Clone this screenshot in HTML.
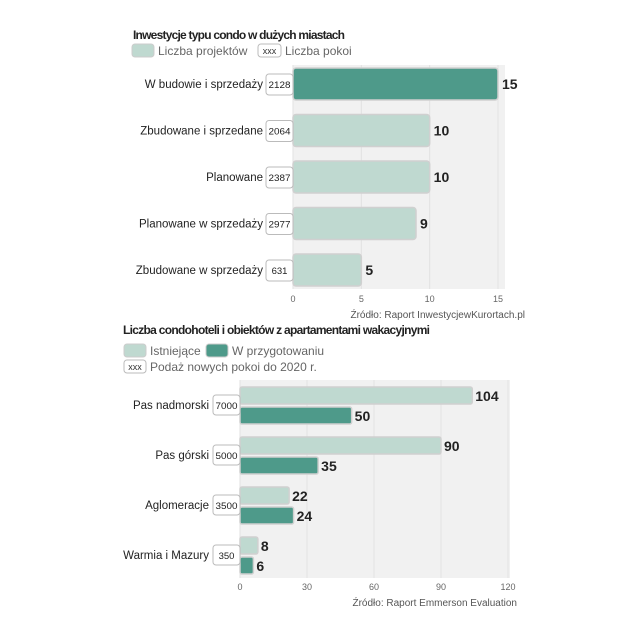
<!DOCTYPE html>
<html><head><meta charset="utf-8"><style>
html,body{margin:0;padding:0;background:#fff;}
svg{display:block;font-family:"Liberation Sans",sans-serif;}
</style></head><body>
<svg id="s" width="640" height="640" viewBox="0 0 640 640">
<text x="133" y="39" font-size="12" font-weight="bold" fill="#222" textLength="212">Inwestycje typu condo w dużych miastach</text>
<g>
<rect x="132" y="44" width="22" height="13" rx="3" fill="#bfd9d0" stroke="#ccc"/>
<text x="158" y="55" font-size="12" fill="#666">Liczba projektów</text>
<rect x="258" y="44" width="23" height="13" rx="3" fill="#fff" stroke="#bbb"/>
<text x="269.5" y="54" font-size="9" fill="#333" text-anchor="middle">xxx</text>
<text x="285" y="55" font-size="12" fill="#666">Liczba pokoi</text>
</g>
<rect x="293" y="65" width="212" height="224" fill="#f1f1f1"/>
<g id="c1"></g>
<text x="525" y="318" font-size="10" fill="#555" text-anchor="end">Źródło:  Raport InwestycjewKurortach.pl</text>

<text x="123" y="334" font-size="12" font-weight="bold" fill="#222" textLength="307">Liczba condohoteli i obiektów z apartamentami wakacyjnymi</text>
<g>
<rect x="124" y="344" width="22" height="13" rx="3" fill="#bfd9d0" stroke="#ccc"/>
<text x="150" y="355" font-size="12" fill="#666">Istniejące</text>
<rect x="206" y="344" width="22" height="13" rx="3" fill="#4e9a8a" stroke="#ccc"/>
<text x="232" y="355" font-size="12" fill="#666">W przygotowaniu</text>
<rect x="124" y="360" width="22" height="13" rx="3" fill="#fff" stroke="#bbb"/>
<text x="135" y="370" font-size="9" fill="#333" text-anchor="middle">xxx</text>
<text x="150" y="371" font-size="12" fill="#666">Podaż nowych pokoi do 2020 r.</text>
</g>
<rect x="240" y="380" width="270" height="198" fill="#f1f1f1"/>
<g id="c2"></g>
<text x="517" y="606" font-size="10" fill="#555" text-anchor="end">Źródło: Raport Emmerson Evaluation</text>
</svg>
<script>
const c1Categories=["W budowie i sprzedaży","Zbudowane i sprzedane","Planowane","Planowane w sprzedaży","Zbudowane  w sprzedaży"];
const c1Projects=[15,10,10,9,5];
const c1Rooms=["2128","2064","2387","2977","631"];
const c1Ticks=[0,5,10,15];
const c2Categories=["Pas nadmorski","Pas górski","Aglomeracje","Warmia i Mazury"];
const c2Existing=[104,90,22,8];
const c2Preparing=[50,35,24,6];
const c2Supply=["7000","5000","3500","350"];
const c2Ticks=[0,30,60,90,120];

const NS="http://www.w3.org/2000/svg";
function mk(p,tag,a,txt){const e=document.createElementNS(NS,tag);for(const k in a)e.setAttribute(k,a[k]);if(txt!==undefined)e.textContent=txt;p.appendChild(e);return e;}

const g1=document.getElementById('c1');
const x1=v=>293+v*(205/15);
const y1=i=>84+i*46.5;
c1Ticks.forEach(t=>{
 const l=mk(g1,'line',{x1:x1(t),x2:x1(t),y1:65,y2:289,stroke:'#e2e2e2'});
 
 
 const tx=mk(g1,'text',{x:x1(t),y:302,'font-size':9,fill:'#666','text-anchor':'middle'},t);
 
 
});
c1Categories.forEach((c,i)=>{
 const yc=y1(i);
 const b=mk(g1,'rect',{x:x1(0),y:yc-16,width:x1(c1Projects[i])-x1(0),height:32,rx:3,fill:i===0?'#4e9a8a':'#bfd9d0',stroke:'#d0d0d0','stroke-width':1.5});
 
 
 const v=mk(g1,'text',{x:x1(c1Projects[i])+4,y:yc+5,'font-size':14,'font-weight':'bold',fill:'#222'},c1Projects[i]);
 
 
 const bx=mk(g1,'rect',{x:266,y:yc-10,width:27,height:21,rx:3,fill:'#fff',stroke:'#bbb'});
 
 
 const attrs={x:279.5,y:yc+4,'font-size':9.5,fill:'#222','text-anchor':'middle'};
 if(c1Rooms[i].length>3){attrs.textLength=22;attrs.lengthAdjust='spacingAndGlyphs';}
 const bt=mk(g1,'text',attrs,c1Rooms[i]);
 
 
 const ct=mk(g1,'text',{x:263,y:yc+4,'font-size':11.5,fill:'#222','text-anchor':'end'},c);
 
 
});

const g2=document.getElementById('c2');
const x2=v=>240+v*(268/120);
const y2=i=>405+i*50;
c2Ticks.forEach(t=>{
 const l=mk(g2,'line',{x1:x2(t),x2:x2(t),y1:380,y2:578,stroke:'#e2e2e2'});
 
 
 const tx=mk(g2,'text',{x:x2(t),y:590,'font-size':9,fill:'#666','text-anchor':'middle'},t);
 
 
});
c2Categories.forEach((c,i)=>{
 const yc=y2(i);
 const b1=mk(g2,'rect',{x:x2(0),y:yc-18,width:x2(c2Existing[i])-x2(0),height:17,rx:2,fill:'#bfd9d0',stroke:'#d0d0d0','stroke-width':1.5});
 
 
 const v1=mk(g2,'text',{x:x2(c2Existing[i])+3,y:yc-4,'font-size':14,'font-weight':'bold',fill:'#222'},c2Existing[i]);
 
 
 const b2=mk(g2,'rect',{x:x2(0),y:yc+2,width:x2(c2Preparing[i])-x2(0),height:17,rx:2,fill:'#4e9a8a',stroke:'#d0d0d0','stroke-width':1.5});
 
 
 const v2=mk(g2,'text',{x:x2(c2Preparing[i])+3,y:yc+16,'font-size':14,'font-weight':'bold',fill:'#222'},c2Preparing[i]);
 
 
 const bx=mk(g2,'rect',{x:213,y:yc-10,width:27,height:20,rx:3,fill:'#fff',stroke:'#bbb'});
 
 
 const attrs={x:226.5,y:yc+4,'font-size':9.5,fill:'#222','text-anchor':'middle'};
 if(c2Supply[i].length>3){attrs.textLength=22;attrs.lengthAdjust='spacingAndGlyphs';}
 const bt=mk(g2,'text',attrs,c2Supply[i]);
 
 
 const ct=mk(g2,'text',{x:209,y:yc+4,'font-size':11.5,fill:'#222','text-anchor':'end'},c);
 
 
});
</script>
</body></html>
